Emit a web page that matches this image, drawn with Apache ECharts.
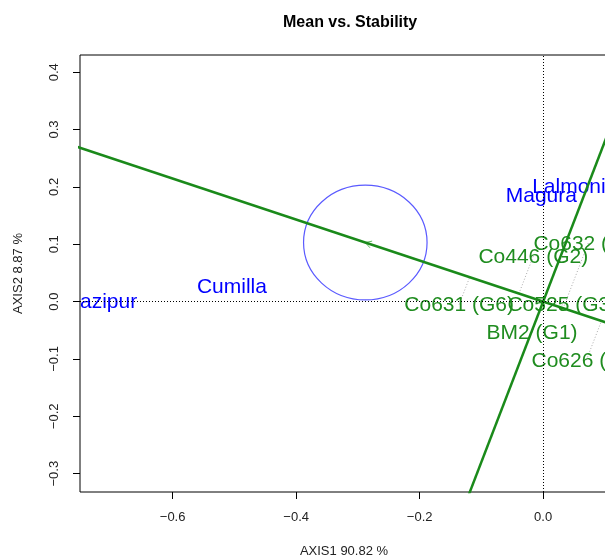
<!DOCTYPE html>
<html>
<head>
<meta charset="utf-8">
<script src="https://cdn.jsdelivr.net/npm/echarts@6/dist/echarts.min.js"></script>
<style>html,body{margin:0;padding:0;background:#fff}#c{width:605px;height:556px}</style>
</head>
<body>
<div id="c"></div>
<script>
const envNames = ['Gazipur', 'Cumilla', 'Magura', 'Lalmonirhat'];
const envX = [-0.717, -0.504, -0.003, 0.071];
const envY = [0.001, 0.027, 0.185, 0.201];
const genoNames = ['BM2 (G1)', 'Co446 (G2)', 'Co525 (G3)', 'Co632 (G4)', 'Co626 (G5)', 'Co631 (G6)'];
const genoX = [-0.018, -0.016, 0.031, 0.073, 0.070, -0.136];
const genoY = [-0.054, 0.079, -0.005, 0.102, -0.102, -0.005];
const avgEnv = [-0.288, 0.103];
const circleRadius = 0.1;
const xTicks = [-0.6, -0.4, -0.2, 0.0];
const yTicks = [-0.3, -0.2, -0.1, 0.0, 0.1, 0.2, 0.3, 0.4];

const FONT = '"Liberation Sans", Arial, sans-serif';
const GREEN = '#1f8c1f';
const BLUE = '#0000ff';
const fmt = v => (v < -1e-9 ? '\u2212' : '') + Math.abs(v).toFixed(1);

const chart = echarts.init(document.getElementById('c'), null, {renderer: 'canvas'});

const d = avgEnv;
const dd = d[0] * d[0] + d[1] * d[1];
const atcLine = [[d[0] * 4, d[1] * 4], [-d[0] * 4, -d[1] * 4]];
const ordLine = [[-d[1] * 4, d[0] * 4], [d[1] * 4, -d[0] * 4]];
const projData = genoX.map((x, i) => {
  const t = (x * d[0] + genoY[i] * d[1]) / dd;
  return [x, genoY[i], t * d[0], t * d[1]];
});

const labelData = envNames.map((n, i) => [envX[i], envY[i], n, 'env'])
  .concat(genoNames.map((n, i) => [genoX[i], genoY[i], n, 'geno']));

chart.setOption({
  animation: false,
  title: {
    text: 'Mean vs. Stability', left: 278, top: 10,
    textStyle: {fontFamily: FONT, fontSize: 16, fontWeight: 'bold', color: '#000'}
  },
  grid: {left: 80, top: 55, width: 528, height: 437, outerBoundsMode: 'none', containLabel: false,
    show: true, borderColor: '#000', borderWidth: 1, backgroundColor: 'transparent'},
  xAxis: {
    type: 'value', min: -0.75, max: 0.105,
    name: 'AXIS1 90.82 %', nameLocation: 'middle', nameGap: 53,
    nameTextStyle: {fontFamily: FONT, fontSize: 13, color: '#222'},
    axisLine: {show: false, onZero: false},
    splitLine: {show: false},
    axisTick: {show: true, length: 7, customValues: xTicks, lineStyle: {color: '#000'}},
    axisLabel: {customValues: xTicks, formatter: fmt, margin: 19, fontFamily: FONT, fontSize: 13, color: '#222'}
  },
  yAxis: {
    type: 'value', min: -0.332, max: 0.43,
    name: 'AXIS2 8.87 %', nameLocation: 'middle', nameGap: 55, nameRotate: 90,
    nameTextStyle: {fontFamily: FONT, fontSize: 13, color: '#222'},
    axisLine: {show: false, onZero: false},
    splitLine: {show: false},
    axisTick: {show: true, length: 7, customValues: yTicks, lineStyle: {color: '#000'}},
    axisLabel: {customValues: yTicks, formatter: fmt, rotate: 90, margin: 19, fontFamily: FONT, fontSize: 13, color: '#222'}
  },
  series: [
    {
      type: 'custom', coordinateSystem: 'cartesian2d', clip: true, z: 1,
      data: projData,
      renderItem: (p, api) => {
        const a = api.coord([api.value(0), api.value(1)]);
        const b = api.coord([api.value(2), api.value(3)]);
        return {type: 'line', shape: {x1: a[0], y1: a[1], x2: b[0], y2: b[1]},
          style: {stroke: '#aaaaaa', lineWidth: 1, lineDash: [1, 2]}};
      },
      markLine: {
        silent: true, symbol: 'none', label: {show: false},
        lineStyle: {color: '#000', width: 1, type: [1, 2]},
        data: [{yAxis: 0}, {xAxis: 0}]
      }
    },
    {
      type: 'custom', coordinateSystem: 'cartesian2d', clip: true, z: 2,
      data: labelData,
      renderItem: (p, api) => {
        const c = api.coord([api.value(0), api.value(1)]);
        const item = labelData[p.dataIndex];
        return {type: 'text', x: c[0], y: c[1] + 1,
          style: {text: item[2], fill: item[3] === 'env' ? BLUE : GREEN,
            fontSize: 21, fontFamily: FONT, align: 'center', verticalAlign: 'middle'}};
      }
    },
    {
      type: 'custom', coordinateSystem: 'cartesian2d', clip: true, z: 3,
      data: [avgEnv],
      renderItem: (p, api) => {
        const c = api.coord([api.value(0), api.value(1)]);
        const s = api.size([circleRadius, circleRadius]);
        const o = api.coord([0, 0]);
        const vx = o[0] - c[0], vy = o[1] - c[1];
        const len = Math.sqrt(vx * vx + vy * vy);
        const ux = vx / len, uy = vy / len;
        const L = 7, ang = Math.PI / 6;
        const r1 = [c[0] + L * (ux * Math.cos(ang) - uy * Math.sin(ang)), c[1] + L * (ux * Math.sin(ang) + uy * Math.cos(ang))];
        const r2 = [c[0] + L * (ux * Math.cos(-ang) - uy * Math.sin(-ang)), c[1] + L * (ux * Math.sin(-ang) + uy * Math.cos(-ang))];
        return {type: 'group', children: [
          {type: 'ellipse', shape: {cx: c[0], cy: c[1], rx: s[0], ry: s[1]},
            style: {fill: null, stroke: '#5a5aff', lineWidth: 1.2}},
          {type: 'polyline', shape: {points: [r1, c, r2]},
            style: {fill: null, stroke: '#5cb85c', lineWidth: 1}}
        ]};
      }
    },
    {
      type: 'line', clip: true, z: 4, symbol: 'none', silent: true,
      data: atcLine, lineStyle: {color: '#1a8a1a', width: 2.5}
    },
    {
      type: 'line', clip: true, z: 4, symbol: 'none', silent: true,
      data: ordLine, lineStyle: {color: '#1a8a1a', width: 2.5}
    }
  ]
});
</script>
</body>
</html>
